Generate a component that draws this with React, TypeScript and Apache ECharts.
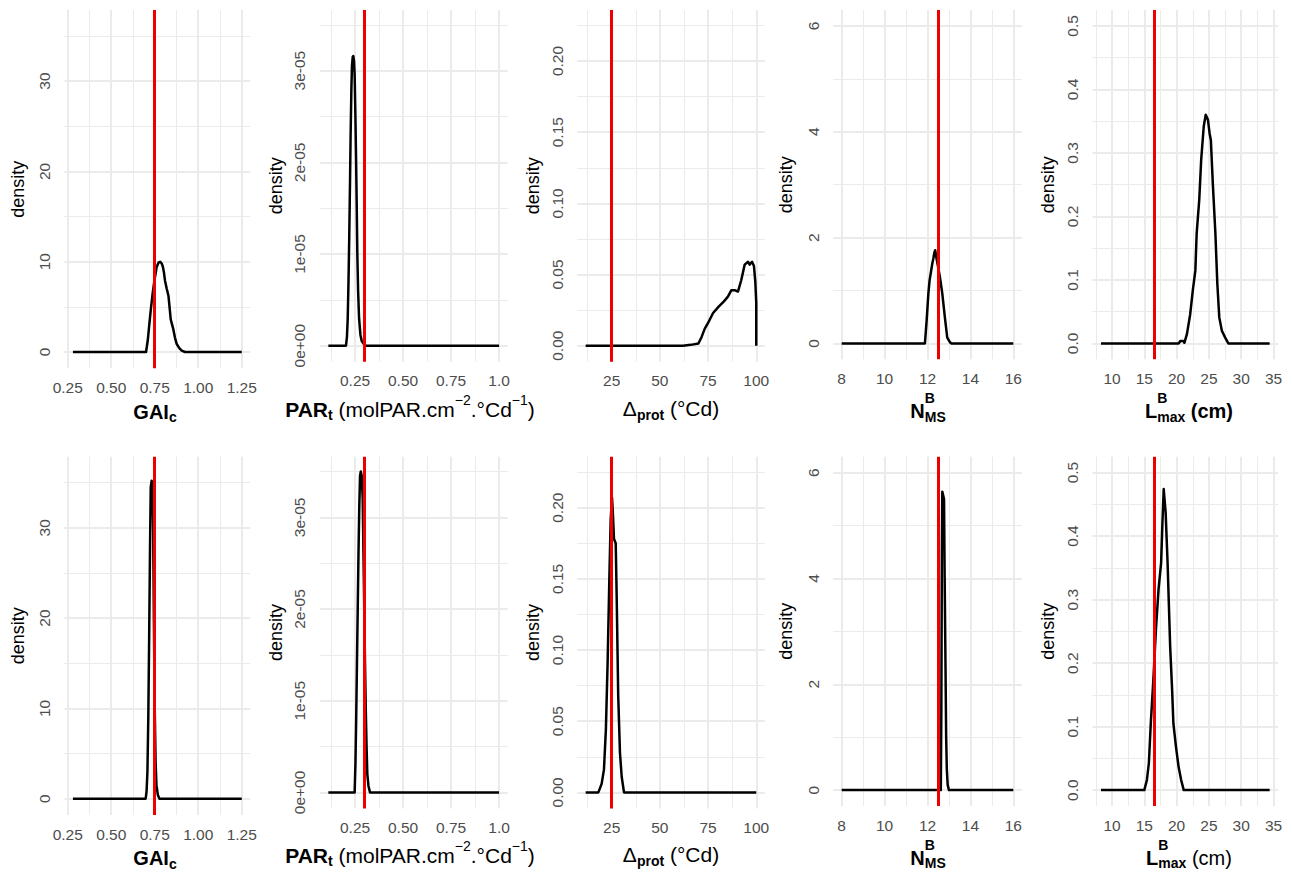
import React, { useEffect, useRef } from "react";
import * as echarts from "echarts";

// ---------------- DATA ----------------
// GAI_c
const gaiTopX = [0.28, 0.700, 0.710, 0.719, 0.727, 0.738, 0.748, 0.761, 0.772, 0.781, 0.790, 0.796, 0.803, 0.809, 0.819, 0.829, 0.836, 0.842, 0.850, 0.857, 0.866, 0.876, 0.890, 0.905, 0.924, 1.25];
const gaiTopY = [0, 0, 1.3, 3.1, 4.6, 6.5, 7.9, 9.4, 9.9, 10.0, 9.8, 9.5, 8.8, 7.9, 7.0, 6.2, 4.8, 3.6, 3.0, 2.5, 1.6, 0.9, 0.45, 0.15, 0, 0];
const gaiBotX = [0.28, 0.698, 0.703, 0.708, 0.713, 0.718, 0.723, 0.727, 0.732, 0.737, 0.741, 0.745, 0.750, 0.755, 0.760, 0.768, 0.777, 1.25];
const gaiBotY = [0, 0, 0.8, 3, 9, 18, 28, 34.5, 35.2, 35.0, 30, 20, 10, 4, 1.5, 0.4, 0, 0];
const gaiRef = 0.75;
const gaiYTop = 36.07;
const gaiXTicks = [0.25, 0.5, 0.75, 1.0, 1.25];
const gaiXLabels = ["0.25", "0.50", "0.75", "1.00", "1.25"];
const gaiXMinor = [0.375, 0.625, 0.875, 1.125];
const gaiYTicks = [0, 10, 20, 30];
const gaiYLabels = ["0", "10", "20", "30"];
const gaiYMinor = [5, 15, 25, 35];

// PAR_t
const parTopX = [0.111, 0.203, 0.208, 0.212, 0.216, 0.220, 0.224, 0.227, 0.231, 0.234, 0.238, 0.241, 0.245, 0.248, 0.252, 0.255, 0.259, 0.262, 0.266, 0.271, 0.278, 0.285, 0.295, 0.307, 1.0];
const parTopY = [0, 0, 0.1e-5, 0.3e-5, 0.7e-5, 1.2e-5, 1.8e-5, 2.3e-5, 2.8e-5, 3.05e-5, 3.15e-5, 3.16e-5, 3.1e-5, 2.95e-5, 2.5e-5, 2.1e-5, 1.5e-5, 1.0e-5, 0.6e-5, 0.3e-5, 0.12e-5, 0.05e-5, 0.02e-5, 0, 0];
const parBotX = [0.111, 0.248, 0.252, 0.256, 0.260, 0.264, 0.268, 0.272, 0.276, 0.280, 0.285, 0.290, 0.294, 0.298, 0.302, 0.306, 0.310, 0.314, 0.320, 0.328, 1.0];
const parBotY = [0, 0, 0.3e-5, 0.8e-5, 1.4e-5, 2.0e-5, 2.6e-5, 3.1e-5, 3.45e-5, 3.5e-5, 3.45e-5, 3.2e-5, 2.6e-5, 2.0e-5, 1.4e-5, 0.9e-5, 0.5e-5, 0.2e-5, 0.07e-5, 0, 0];
const parRef = 0.30;
const parYTop = 3.487e-5;
const parXTicks = [0.25, 0.5, 0.75, 1.0];
const parXLabels = ["0.25", "0.50", "0.75", "1.0"];
const parXMinor = [0.125, 0.375, 0.625, 0.875];
const parYTicks = [0, 1e-5, 2e-5, 3e-5];
const parYLabels = ["0e+00", "1e-05", "2e-05", "3e-05"];
const parYMinor = [0.5e-5, 1.5e-5, 2.5e-5, 3.5e-5];

// Delta_prot
const protTopX = [11.5, 62, 66, 70, 71.6, 73.3, 75, 77.6, 80.5, 83.1, 85.3, 87.1, 88.8, 90.5, 92.2, 94, 95.7, 96.6, 97.8, 98.8, 99.5, 100, 100];
const protTopY = [0, 0, 0.0006, 0.0015, 0.006, 0.012, 0.016, 0.023, 0.0275, 0.031, 0.0345, 0.039, 0.039, 0.038, 0.046, 0.057, 0.059, 0.057, 0.059, 0.056, 0.045, 0.03, 0];
const protBotX = [11.5, 18.1, 19.8, 21, 22, 22.9, 23.8, 24.5, 25.2, 25.7, 26.2, 27.1, 27.6, 28.4, 29.3, 30.2, 31.4, 100];
const protBotY = [0, 0, 0.006, 0.016, 0.044, 0.091, 0.15, 0.192, 0.207, 0.194, 0.178, 0.175, 0.138, 0.068, 0.028, 0.011, 0, 0];
const protRef = 25;
const protYTop = 0.2246;
const protXTicks = [25, 50, 75, 100];
const protXLabels = ["25", "50", "75", "100"];
const protXMinor = [12.5, 37.5, 62.5, 87.5];
const protYTicks = [0, 0.05, 0.1, 0.15, 0.2];
const protYLabels = ["0.00", "0.05", "0.10", "0.15", "0.20"];
const protYMinor = [0.025, 0.075, 0.125, 0.175, 0.225];

// N^B_MS
const nmsTopX = [8, 11.88, 11.96, 12.04, 12.1, 12.15, 12.22, 12.27, 12.32, 12.36, 12.4, 12.47, 12.58, 12.69, 12.81, 12.92, 13.05, 13.12, 16];
const nmsTopY = [0, 0, 0.43, 0.94, 1.2, 1.32, 1.5, 1.6, 1.72, 1.76, 1.65, 1.5, 1.25, 0.94, 0.49, 0.11, 0.02, 0, 0];
const nmsBotX = [8, 12.62, 12.645, 12.67, 12.69, 12.72, 12.77, 12.80, 12.84, 12.87, 12.90, 12.94, 13.0, 16];
const nmsBotY = [0, 0, 1.5, 4.5, 5.64, 5.64, 5.5, 4.0, 2.3, 1.0, 0.4, 0.1, 0, 0];
const nmsRef = 12.5;
const nmsYTop = 6.0;
const nmsXTicks = [8, 10, 12, 14, 16];
const nmsXLabels = ["8", "10", "12", "14", "16"];
const nmsXMinor = [9, 11, 13, 15];
const nmsYTicks = [0, 2, 4, 6];
const nmsYLabels = ["0", "2", "4", "6"];
const nmsYMinor = [1, 3, 5];

// L^B_max
const lmaxTopX = [8.3, 20.3, 20.6, 21.0, 21.2, 21.6, 22.1, 22.5, 22.9, 23.1, 23.5, 23.8, 24.2, 24.5, 24.85, 25.1, 25.3, 25.6, 26.0, 26.3, 26.6, 27.0, 27.5, 28.0, 34.4];
const lmaxTopY = [0, 0, 0.004, 0.004, 0.001, 0.015, 0.046, 0.083, 0.115, 0.173, 0.226, 0.289, 0.342, 0.36, 0.352, 0.331, 0.32, 0.252, 0.173, 0.094, 0.041, 0.02, 0.0095, 0, 0];
const lmaxBotX = [8.3, 15.0, 15.4, 15.7, 16.0, 16.4, 16.8, 17.2, 17.6, 17.8, 18.0, 18.3, 18.6, 19.0, 19.3, 19.5, 19.9, 20.3, 20.7, 21.1, 34.4];
const lmaxBotY = [0, 0, 0.016, 0.042, 0.105, 0.174, 0.253, 0.316, 0.358, 0.42, 0.474, 0.437, 0.358, 0.226, 0.158, 0.105, 0.068, 0.037, 0.016, 0, 0];
const lmaxRef = 16.6;
const lmaxYTop = 0.5;
const lmaxXTicks = [10, 15, 20, 25, 30, 35];
const lmaxXLabels = ["10", "15", "20", "25", "30", "35"];
const lmaxXMinor = [7.5, 12.5, 17.5, 22.5, 27.5, 32.5];
const lmaxYTicks = [0, 0.1, 0.2, 0.3, 0.4, 0.5];
const lmaxYLabels = ["0.0", "0.1", "0.2", "0.3", "0.4", "0.5"];
const lmaxYMinor = [0.05, 0.15, 0.25, 0.35, 0.45];

// ---------------- LAYOUT ----------------
const FONT = '"Liberation Sans", Arial, Helvetica, sans-serif';
const PANEL_TOP = 10;
const ROW_SHIFT = 446.7;
const GRID_MAJOR = "#EBEBEB";
const TICK_COLOR = "#4D4D4D";
const RED = "#EE0000";

type Part = { text?: string; sup?: string; sub?: string; size: number; bold: boolean; dy?: number };

interface Col {
  topX: number[]; topY: number[]; botX: number[]; botY: number[]; ref: number; yTop: number;
  xTicks: number[]; xLabels: string[]; xMinor: number[];
  yTicks: number[]; yLabels: string[]; yMinor: number[];
  left: number; width: number; bottom: number; titleBase: number; titleCx: number; densityX: number;
  titleTop: Part[]; titleBot: Part[];
}

const gaiTitle: Part[] = [
  { text: "GAI", size: 20, bold: true },
  { text: "c", size: 14, bold: true, dy: 3.5 },
];
const parTitle: Part[] = [
  { text: "PAR", size: 21, bold: true },
  { text: "t", size: 14, bold: true, dy: 3 },
  { text: " (molPAR.cm", size: 21, bold: false },
  { text: "\u22122", size: 14, bold: false, dy: -12 },
  { text: ".°Cd", size: 21, bold: false },
  { text: "\u22121", size: 14, bold: false, dy: -12 },
  { text: ")", size: 21, bold: false },
];
const protTitle: Part[] = [
  { text: "\u0394", size: 21, bold: false },
  { text: "prot", size: 14, bold: true, dy: 4 },
  { text: " (°Cd)", size: 21, bold: false },
];
const nmsTitle: Part[] = [
  { text: "N", size: 20, bold: true },
  { sup: "B", sub: "MS", size: 14, bold: true },
];
const lmaxTitleTop: Part[] = [
  { text: "L", size: 20, bold: true },
  { sup: "B", sub: "max", size: 14, bold: true },
  { text: " (cm)", size: 20, bold: true },
];
const lmaxTitleBot: Part[] = [
  { text: "L", size: 20, bold: true },
  { sup: "B", sub: "max", size: 14, bold: true },
  { text: " (cm)", size: 20, bold: false },
];

const cols: Col[] = [
  { topX: gaiTopX, topY: gaiTopY, botX: gaiBotX, botY: gaiBotY, ref: gaiRef, yTop: gaiYTop,
    xTicks: gaiXTicks, xLabels: gaiXLabels, xMinor: gaiXMinor, yTicks: gaiYTicks, yLabels: gaiYLabels, yMinor: gaiYMinor,
    left: 64.5, width: 185.7, bottom: 368.3, titleBase: 418.5, titleCx: 155, densityX: 17.5, titleTop: gaiTitle, titleBot: gaiTitle },
  { topX: parTopX, topY: parTopY, botX: parBotX, botY: parBotY, ref: parRef, yTop: parYTop,
    xTicks: parXTicks, xLabels: parXLabels, xMinor: parXMinor, yTicks: parYTicks, yLabels: parYLabels, yMinor: parYMinor,
    left: 319.8, width: 187.8, bottom: 361.7, titleBase: 416.5, titleCx: 410, densityX: 276, titleTop: parTitle, titleBot: parTitle },
  { topX: protTopX, topY: protTopY, botX: protBotX, botY: protBotY, ref: protRef, yTop: protYTop,
    xTicks: protXTicks, xLabels: protXLabels, xMinor: protXMinor, yTicks: protYTicks, yLabels: protYLabels, yMinor: protYMinor,
    left: 577.1, width: 187.7, bottom: 361.7, titleBase: 415.5, titleCx: 671, densityX: 532.5, titleTop: protTitle, titleBot: protTitle },
  { topX: nmsTopX, topY: nmsTopY, botX: nmsBotX, botY: nmsBotY, ref: nmsRef, yTop: nmsYTop,
    xTicks: nmsXTicks, xLabels: nmsXLabels, xMinor: nmsXMinor, yTicks: nmsYTicks, yLabels: nmsYLabels, yMinor: nmsYMinor,
    left: 833.1, width: 188.8, bottom: 359.3, titleBase: 418, titleCx: 928, densityX: 786, titleTop: nmsTitle, titleBot: nmsTitle },
  { topX: lmaxTopX, topY: lmaxTopY, botX: lmaxBotX, botY: lmaxBotY, ref: lmaxRef, yTop: lmaxYTop,
    xTicks: lmaxXTicks, xLabels: lmaxXLabels, xMinor: lmaxXMinor, yTicks: lmaxYTicks, yLabels: lmaxYLabels, yMinor: lmaxYMinor,
    left: 1092.6, width: 185.5, bottom: 359.3, titleBase: 418, titleCx: 1189, densityX: 1047.5, titleTop: lmaxTitleTop, titleBot: lmaxTitleBot },
];

let measureCtx: CanvasRenderingContext2D | null = null;
function textWidth(t: string, size: number, bold: boolean): number {
  if (!measureCtx) measureCtx = document.createElement("canvas").getContext("2d");
  if (!measureCtx) return t.length * size * 0.55;
  measureCtx.font = `${bold ? "bold " : ""}${size}px ${FONT}`;
  return measureCtx.measureText(t).width;
}

function textEl(t: string, x: number, baseline: number, size: number, bold: boolean): any {
  return {
    type: "text",
    x,
    y: baseline - 0.3465 * size,
    silent: true,
    style: {
      text: t,
      fill: "#000",
      fontSize: size,
      fontWeight: bold ? "bold" : "normal",
      fontFamily: FONT,
      align: "left",
      verticalAlign: "middle",
    },
  };
}

function titleEls(parts: Part[], cx: number, base: number): any[] {
  const widths = parts.map((p) =>
    p.text !== undefined
      ? textWidth(p.text, p.size, p.bold)
      : Math.max(textWidth(p.sup || "", p.size, p.bold), textWidth(p.sub || "", p.size, p.bold))
  );
  const total = widths.reduce((a, b) => a + b, 0);
  let x = cx - total / 2;
  const out: any[] = [];
  parts.forEach((p, i) => {
    if (p.text !== undefined) {
      out.push(textEl(p.text, x, base + (p.dy || 0), p.size, p.bold));
    } else {
      out.push(textEl(p.sup || "", x, base - 15, p.size, p.bold));
      out.push(textEl(p.sub || "", x, base + 3.5, p.size, p.bold));
    }
    x += widths[i];
  });
  return out;
}

function labelFor(ticks: number[], labels: string[]) {
  return (v: number) => {
    const i = ticks.findIndex((t) => Math.abs(t - v) <= Math.abs(t) * 1e-6 + 1e-12);
    return i >= 0 ? labels[i] : "";
  };
}

function buildOption() {
  const grid: any[] = [];
  const xAxis: any[] = [];
  const yAxis: any[] = [];
  const series: any[] = [];
  const graphic: any[] = [];

  cols.forEach((c) => {
    const x0 = c.topX[0];
    const x1 = c.topX[c.topX.length - 1];
    const xMin = x0 - 0.05 * (x1 - x0);
    const xMax = x1 + 0.05 * (x1 - x0);
    const yMin = -0.05 * c.yTop;
    const yMax = 1.05 * c.yTop;
    [0, 1].forEach((row) => {
      const gi = grid.length;
      const shift = row * ROW_SHIFT;
      grid.push({
        left: c.left,
        top: PANEL_TOP + shift,
        width: c.width,
        height: c.bottom - PANEL_TOP,
        containLabel: false,
      });
      xAxis.push({
        type: "value", gridIndex: gi, min: xMin, max: xMax,
        axisLine: { show: false },
        axisTick: { show: false, customValues: c.xTicks },
        axisLabel: {
          show: true, customValues: c.xTicks, formatter: labelFor(c.xTicks, c.xLabels),
          color: TICK_COLOR, fontSize: 15.5, fontFamily: FONT, margin: 11, hideOverlap: false,
        },
        splitLine: { show: true, lineStyle: { color: GRID_MAJOR, width: 2 } },
      });
      xAxis.push({
        type: "value", gridIndex: gi, min: xMin, max: xMax,
        axisLine: { show: false },
        axisTick: { show: false, customValues: c.xMinor },
        axisLabel: { show: false },
        splitLine: { show: true, lineStyle: { color: GRID_MAJOR, width: 1 } },
      });
      yAxis.push({
        type: "value", gridIndex: gi, min: yMin, max: yMax,
        axisLine: { show: false },
        axisTick: { show: false, customValues: c.yTicks },
        axisLabel: {
          show: true, customValues: c.yTicks, formatter: labelFor(c.yTicks, c.yLabels),
          color: TICK_COLOR, fontSize: 15.5, fontFamily: FONT, margin: 12, rotate: 90, hideOverlap: false,
        },
        splitLine: { show: true, lineStyle: { color: GRID_MAJOR, width: 2 } },
      });
      yAxis.push({
        type: "value", gridIndex: gi, min: yMin, max: yMax,
        axisLine: { show: false },
        axisTick: { show: false, customValues: c.yMinor },
        axisLabel: { show: false },
        splitLine: { show: true, lineStyle: { color: GRID_MAJOR, width: 1 } },
      });
      const xs = row === 0 ? c.topX : c.botX;
      const ys = row === 0 ? c.topY : c.botY;
      series.push({
        type: "line",
        xAxisIndex: 2 * gi,
        yAxisIndex: 2 * gi,
        data: xs.map((x, k) => [x, ys[k]]),
        showSymbol: false,
        symbol: "none",
        smooth: false,
        silent: true,
        lineStyle: { color: "#000", width: 2.5, join: "round" },
        z: 3,
        markLine: {
          silent: true,
          symbol: ["none", "none"],
          label: { show: false },
          lineStyle: { color: RED, width: 3, type: "solid" },
          emphasis: { disabled: true },
          data: [{ xAxis: c.ref }],
        },
      });
      const panelMid = (PANEL_TOP + c.bottom) / 2 + shift;
      graphic.push({
        type: "text",
        x: c.densityX,
        y: panelMid,
        rotation: Math.PI / 2,
        silent: true,
        style: {
          text: "density", fill: "#000", fontSize: 18, fontFamily: FONT,
          align: "center", verticalAlign: "middle",
        },
      });
      titleEls(row === 0 ? c.titleTop : c.titleBot, c.titleCx, c.titleBase + shift).forEach((e) => graphic.push(e));
    });
  });

  return {
    animation: false,
    backgroundColor: "#ffffff",
    textStyle: { fontFamily: FONT },
    grid,
    xAxis,
    yAxis,
    series,
    graphic,
  };
}

export default function App() {
  const ref = useRef<HTMLDivElement>(null);
  useEffect(() => {
    if (!ref.current) return;
    const chart = echarts.init(ref.current, undefined, { renderer: "svg" });
    chart.setOption(buildOption() as any);
    return () => chart.dispose();
  }, []);
  return (
    <div
      ref={ref}
      style={{ position: "absolute", left: 0, top: 0, width: 1293, height: 872, background: "#fff" }}
    />
  );
}
